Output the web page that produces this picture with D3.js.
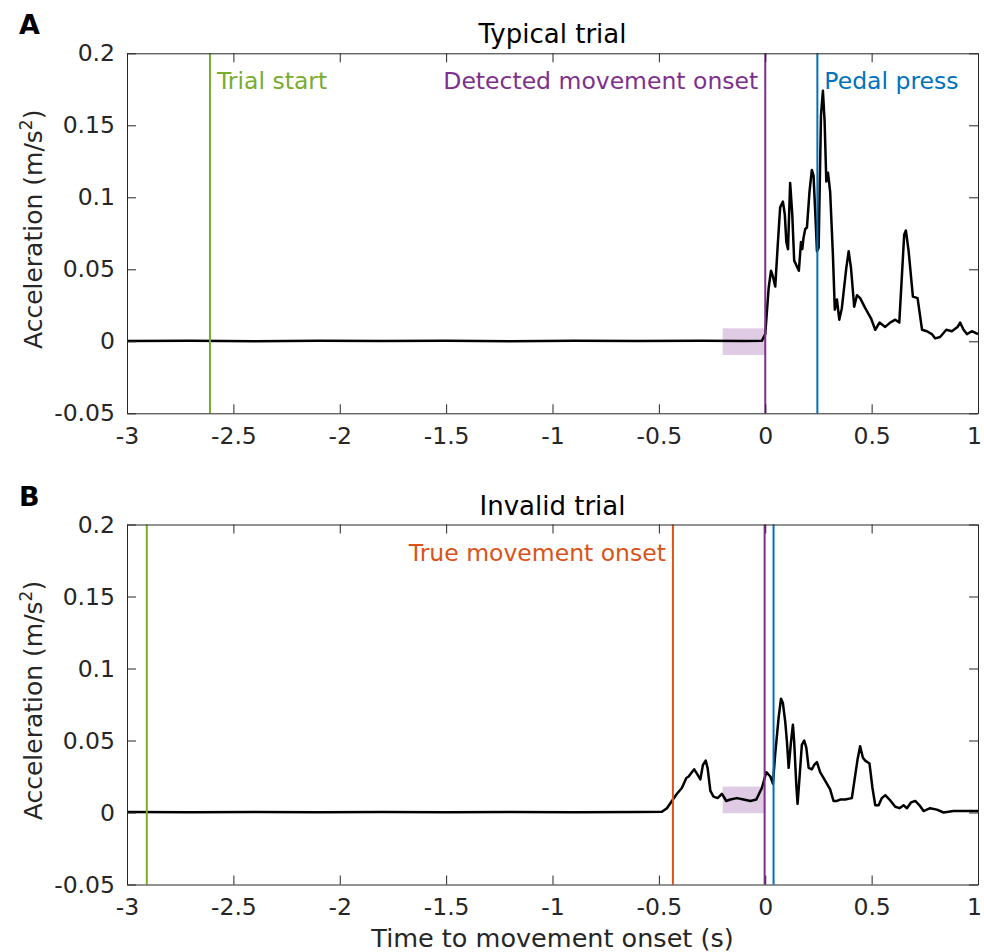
<!DOCTYPE html>
<html>
<head>
<meta charset="utf-8">
<script src="https://cdn.jsdelivr.net/npm/d3@7"></script>
<style>
  body { margin: 0; background: #fff; }
  svg { font-family: "DejaVu Sans", sans-serif; }
</style>
</head>
<body>
<div id="chart"></div>
<script>
// axis ticks
const xTicks = [-3, -2.5, -2, -1.5, -1, -0.5, 0, 0.5, 1];
const yTicks = [-0.05, 0, 0.05, 0.1, 0.15, 0.2];

// panel A: typical trial (time in s, acceleration in m/s^2)
const timeA = [-3, -2.7, -2.4, -2.1, -1.8, -1.5, -1.2, -0.9, -0.6, -0.3, -0.1, -0.016,
  0, 0.016, 0.027, 0.036, 0.047, 0.058, 0.070, 0.083, 0.092, 0.099, 0.107, 0.117, 0.127,
  0.136, 0.149, 0.158, 0.168, 0.174, 0.180, 0.188, 0.196, 0.208, 0.219, 0.227, 0.237,
  0.243, 0.251, 0.262, 0.271, 0.279, 0.287, 0.295, 0.305, 0.318, 0.327, 0.337, 0.348,
  0.360, 0.381, 0.392, 0.403, 0.418, 0.431, 0.446, 0.470, 0.497, 0.517, 0.537, 0.564,
  0.587, 0.611, 0.630, 0.641, 0.653, 0.661, 0.674, 0.694, 0.716, 0.737, 0.760, 0.783,
  0.799, 0.822, 0.851, 0.877, 0.904, 0.916, 0.932, 0.948, 0.971, 1.0];
const accelA = [0.0002, 0.0004, 0.0001, 0.0003, 0.0002, 0.0004, 0.0001, 0.0003, 0.0002, 0.0004, 0.0002, 0.0003,
  0.005, 0.037, 0.049, 0.045, 0.038, 0.065, 0.093, 0.097, 0.088, 0.069, 0.064, 0.110, 0.088,
  0.056, 0.052, 0.049, 0.069, 0.064, 0.072, 0.078, 0.079, 0.104, 0.119, 0.115, 0.083,
  0.0625, 0.065, 0.157, 0.174, 0.153, 0.111, 0.117, 0.104, 0.060, 0.022, 0.029, 0.015,
  0.023, 0.051, 0.0625, 0.051, 0.024, 0.032, 0.030, 0.023, 0.016, 0.008, 0.013, 0.010,
  0.013, 0.015, 0.013, 0.042, 0.074, 0.077, 0.0625, 0.031, 0.030, 0.008, 0.007, 0.005,
  0.002, 0.003, 0.008, 0.007, 0.010, 0.013, 0.008, 0.005, 0.007, 0.005];

// panel B: invalid trial
const timeB = [-3, -2.7, -2.4, -2.1, -1.8, -1.5, -1.2, -0.9, -0.6, -0.486,
  -0.462, -0.434, -0.415, -0.392, -0.371, -0.360, -0.345, -0.334, -0.321, -0.305, -0.293,
  -0.280, -0.271, -0.258, -0.243, -0.224, -0.204, -0.183, -0.164, -0.133, -0.102, -0.070,
  -0.042, -0.016, 0.005, 0.024, 0.036, 0.047, 0.063, 0.074, 0.083, 0.094, 0.102, 0.110,
  0.121, 0.130, 0.136, 0.146, 0.152, 0.161, 0.172, 0.183, 0.193, 0.204, 0.219, 0.230,
  0.243, 0.258, 0.282, 0.305, 0.321, 0.337, 0.352, 0.376, 0.407, 0.423, 0.434, 0.446,
  0.459, 0.470, 0.490, 0.504, 0.517, 0.533, 0.548, 0.564, 0.584, 0.611, 0.631, 0.650,
  0.666, 0.685, 0.705, 0.725, 0.744, 0.775, 0.807, 0.838, 0.885, 0.932, 0.979, 1.0];
const accelB = [0.0003, 0.0001, 0.0004, 0.0002, 0.0003, 0.0001, 0.0004, 0.0002, 0.0003, 0.0005,
  0.003, 0.009, 0.013, 0.017, 0.024, 0.025, 0.028, 0.030, 0.027, 0.023, 0.033,
  0.036, 0.031, 0.015, 0.011, 0.010, 0.013, 0.008, 0.009, 0.010, 0.009, 0.008,
  0.009, 0.017, 0.028, 0.025, 0.020, 0.041, 0.066, 0.079, 0.076, 0.063, 0.049, 0.031,
  0.049, 0.061, 0.049, 0.019, 0.006, 0.024, 0.047, 0.050, 0.045, 0.031, 0.030, 0.033,
  0.035, 0.028, 0.022, 0.016, 0.008, 0.008, 0.009, 0.009, 0.010, 0.026, 0.037, 0.046,
  0.038, 0.036, 0.034, 0.017, 0.005, 0.005, 0.010, 0.012, 0.009, 0.004, 0.003, 0.005,
  0.003, 0.007, 0.008, 0.005, 0.001, 0.003, 0.002, 0.000, 0.001, 0.001, 0.001, 0.001];

// event markers
const eventsA = [
  { t: -2.61, color: "#77AC30", label: "Trial start", anchor: "start" },
  { t: 0, color: "#7E2F8E", label: "Detected movement onset", anchor: "end" },
  { t: 0.245, color: "#0072BD", label: "Pedal press", anchor: "start" }
];
const eventsB = [
  { t: -2.907, color: "#77AC30", label: "", anchor: "start" },
  { t: -0.434, color: "#D95319", label: "True movement onset", anchor: "end" },
  { t: -0.003, color: "#7E2F8E", label: "", anchor: "start" },
  { t: 0.039, color: "#0072BD", label: "", anchor: "start" }
];

// baseline windows (t0, t1, yLow, yHigh)
const windowA = [-0.2, 0, -0.0095, 0.009];
const windowB = [-0.2, -0.003, -0.0005, 0.018];

const W = 984, H = 952;
const svg = d3.select("#chart").append("svg")
  .attr("width", W).attr("height", H);

const axColor = "#262626";

function drawPanel(top, title, letter, times, accel, events, win, showXLabel) {
  const left = 127, right = 978, bottom = top + 360;
  const x = d3.scaleLinear().domain([-3, 1]).range([left, right]);
  const y = d3.scaleLinear().domain([-0.05, 0.2]).range([bottom, top]);
  const g = svg.append("g");

  // baseline window shade
  g.append("rect")
    .attr("x", x(win[0])).attr("width", x(win[1]) - x(win[0]))
    .attr("y", y(win[3])).attr("height", y(win[2]) - y(win[3]))
    .attr("fill", "#7E2F8E").attr("fill-opacity", 0.25);

  // signal
  const line = d3.line().x((d, i) => x(times[i])).y(d => y(d));
  g.append("path")
    .datum(accel)
    .attr("d", line)
    .attr("fill", "none")
    .attr("stroke", "#000")
    .attr("stroke-width", 2.5)
    .attr("stroke-linejoin", "round");

  // event lines
  events.forEach(ev => {
    g.append("line")
      .attr("x1", x(ev.t)).attr("x2", x(ev.t))
      .attr("y1", top).attr("y2", bottom)
      .attr("stroke", ev.color).attr("stroke-width", 2);
    if (ev.label) {
      g.append("text")
        .attr("x", x(ev.t) + (ev.anchor === "start" ? 7 : -7))
        .attr("y", top + 36)
        .attr("text-anchor", ev.anchor)
        .attr("fill", ev.color)
        .style("font-size", "23.5px")
        .text(ev.label);
    }
  });

  // axes (ticks inward, mirrored on top / right)
  const tickLen = 9;
  const fmt = d => String(d);
  const xAx = g.append("g").attr("transform", `translate(0,${bottom})`)
    .call(d3.axisBottom(x).tickValues(xTicks).tickSizeInner(-tickLen).tickSizeOuter(0).tickPadding(14)
      .tickFormat(fmt));
  // keep the last label inside the page edge
  xAx.selectAll(".tick text").filter(d => d === 1).attr("dx", -4);
  g.append("g").attr("transform", `translate(0,${top})`)
    .call(d3.axisTop(x).tickValues(xTicks).tickSizeInner(-tickLen).tickSizeOuter(0).tickFormat(""));
  g.append("g").attr("transform", `translate(${left},0)`)
    .call(d3.axisLeft(y).tickValues(yTicks).tickSizeInner(-tickLen).tickSizeOuter(0).tickPadding(12)
      .tickFormat(fmt));
  g.append("g").attr("transform", `translate(${right},0)`)
    .call(d3.axisRight(y).tickValues(yTicks).tickSizeInner(-tickLen).tickSizeOuter(0).tickFormat(""));
  g.selectAll(".domain").attr("stroke", axColor);
  g.selectAll(".tick line").attr("stroke", axColor);
  g.selectAll(".tick text").attr("fill", axColor)
    .style("font-size", "23.5px").style("font-family", "DejaVu Sans, sans-serif");

  // title
  g.append("text")
    .attr("x", (left + right) / 2).attr("y", top - 10)
    .attr("text-anchor", "middle").attr("fill", "#000")
    .style("font-size", "26px")
    .text(title);

  // panel letter
  g.append("text")
    .attr("x", 19).attr("y", top - 19)
    .attr("fill", "#000")
    .style("font-size", "27px").style("font-weight", "bold")
    .text(letter);

  // y label
  const yl = g.append("text")
    .attr("transform", `translate(42,${(top + bottom) / 2 - 4}) rotate(-90)`)
    .attr("text-anchor", "middle").attr("fill", axColor)
    .style("font-size", "25px");
  yl.append("tspan").text("Acceleration (m/s");
  yl.append("tspan").attr("dy", -10).style("font-size", "17px").text("2");
  yl.append("tspan").attr("dy", 10).text(")");

  if (showXLabel) {
    g.append("text")
      .attr("x", (left + right) / 2).attr("y", bottom + 62)
      .attr("text-anchor", "middle").attr("fill", axColor)
      .style("font-size", "25.5px")
      .text("Time to movement onset (s)");
  }
}

drawPanel(53.3, "Typical trial", "A", timeA, accelA, eventsA, windowA, false);
drawPanel(524.5, "Invalid trial", "B", timeB, accelB, eventsB, windowB, true);
</script>
</body>
</html>
